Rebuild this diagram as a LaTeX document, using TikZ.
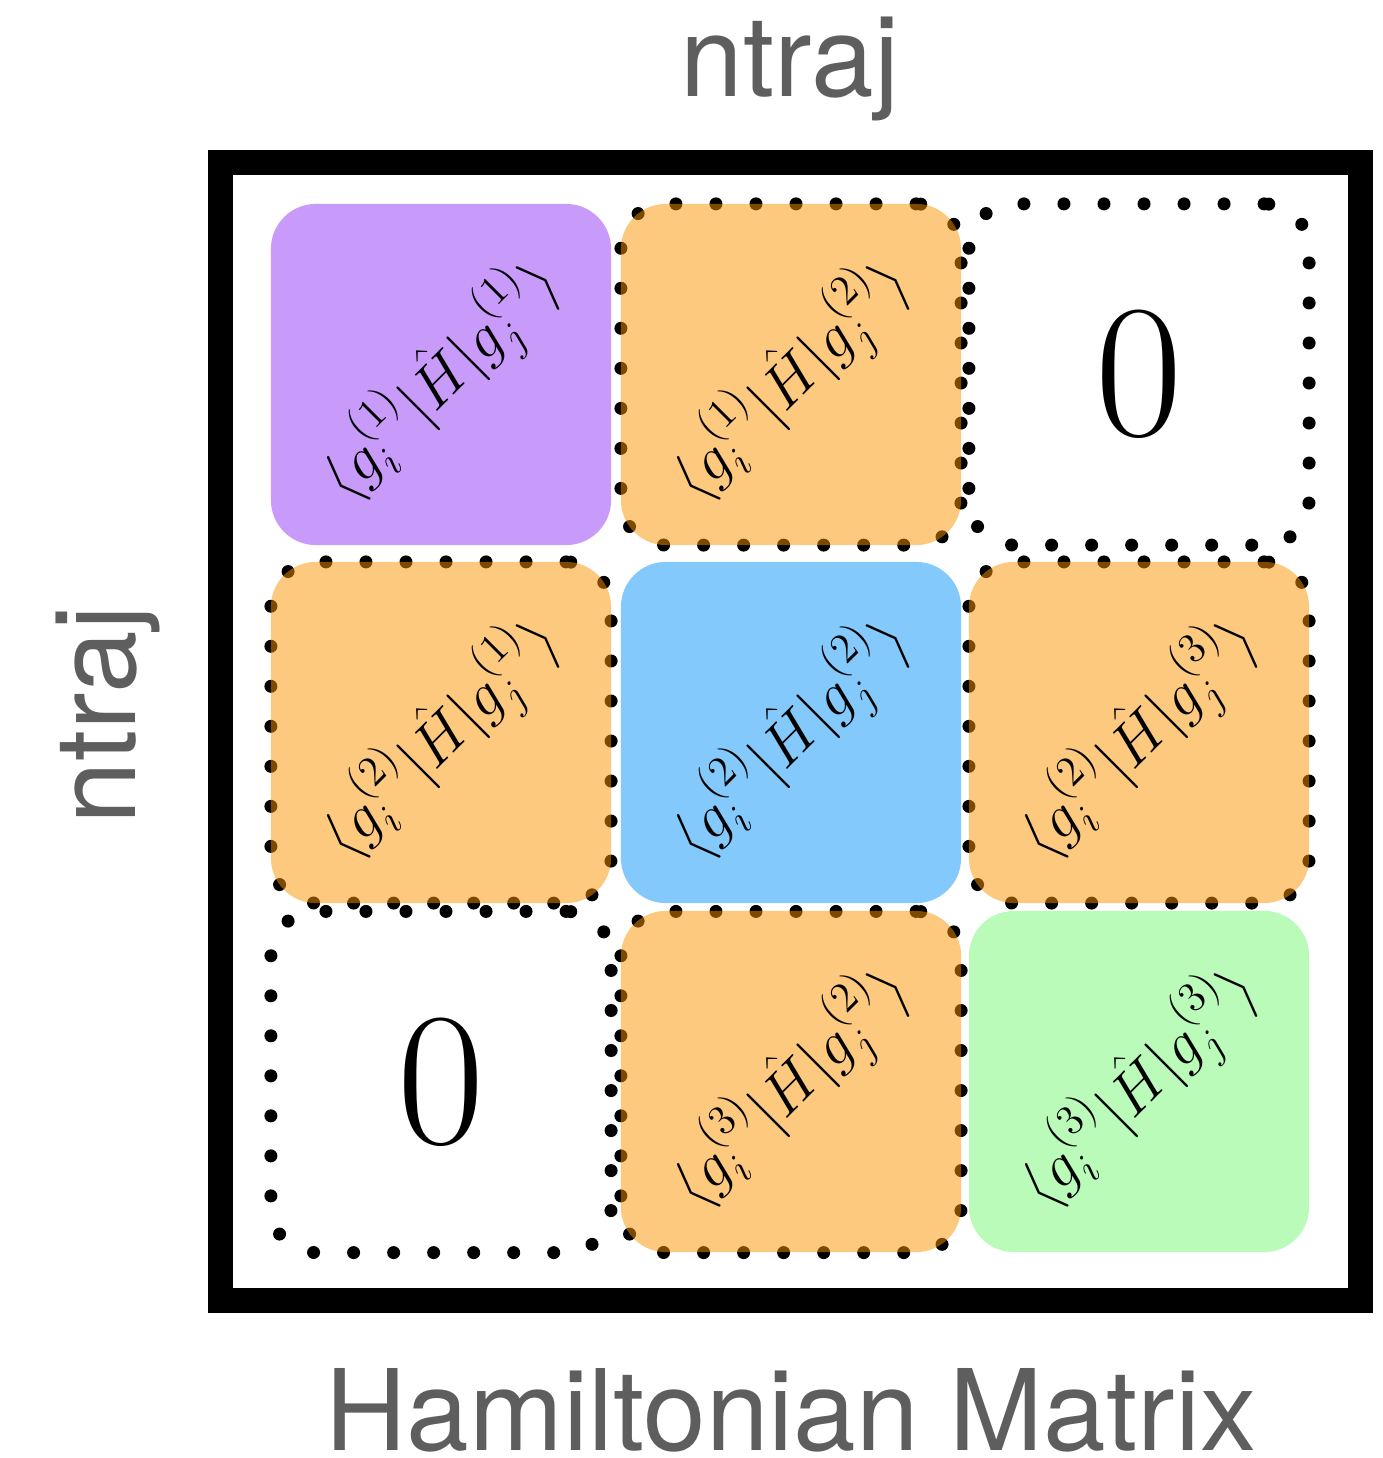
\documentclass[tikz,border=0pt]{standalone}
\usepackage{amsmath}
\usepackage{fontspec}
\setsansfont{TeX Gyre Heros}
\usepackage{xcolor}
\usepackage{tikz}

\definecolor{labelgray}{RGB}{94,94,94}
\definecolor{diagA}{RGB}{145,55,245}
\definecolor{diagB}{RGB}{9,147,249}
\definecolor{diagC}{RGB}{117,247,117}
\definecolor{offdiag}{RGB}{251,147,0}

\newcommand{\melem}[2]{$\langle g_i^{(#1)}|\hat{H}|g_j^{(#2)}\rangle$}

\begin{document}
\begin{tikzpicture}[x=0.01cm,y=-0.01cm,
	block/.style={minimum width=3.4cm,minimum height=3.41cm,rounded corners=0.45cm,inner sep=0pt},
	dotbox/.style={block,draw,line width=0.13cm,line cap=round,dash pattern=on 0pt off 0.4cm},
	tint/.style={block,fill=#1,fill opacity=0.5},
	elem/.style={rotate=45,font=\fontsize{18}{22}\selectfont},
	zero/.style={font=\fontsize{54}{60}\selectfont},
	axis/.style={font=\sffamily\fontsize{32}{38}\selectfont,text=labelgray}]
	\useasboundingbox (0,0) rectangle (1383,1458);

	% outer frame
	\draw[line width=0.25cm] (220.5,162.5) rectangle (1360,1300.5);

	% dotted outlines of the coupling and zero blocks
	\foreach \x/\y/\n in {791/374.5/12,1139/374.5/13,441/732.5/21,1139/732.5/23,441/1082/31,791/1082/32}
		\node[dotbox] (o\n) at (\x,\y) {};

	% tinted blocks
	\node[tint=diagA] (b11) at (441,374.5) {};
	\node[tint=diagB] (b22) at (791,732.5) {};
	\node[tint=diagC] (b33) at (1139,1081.5) {};
	\foreach \x/\y/\n in {791/374.5/12,441/732.5/21,1139/732.5/23,791/1081.5/32}
		\node[tint=offdiag] (b\n) at (\x,\y) {};

	% matrix elements
	\foreach \n/\i/\j in {11/1/1,12/1/2,21/2/1,22/2/2,23/2/3,32/3/2,33/3/3}
		\node[elem] (t\n) at ([yshift=-0.06cm]b\n) {\melem{\i}{\j}};
	\node[zero] (z13) at (o13) {0};
	\node[zero] (z31) at (o31) {0};

	% axis labels
	\node[axis,anchor=base] (top) at (790,97) {ntraj};
	\node[axis,anchor=base,rotate=90] (left) at (135,715) {ntraj};
	\node[axis,anchor=base,text depth=0pt] (bottom) at (791,1450) {Hamiltonian Matrix};
\end{tikzpicture}
\end{document}
